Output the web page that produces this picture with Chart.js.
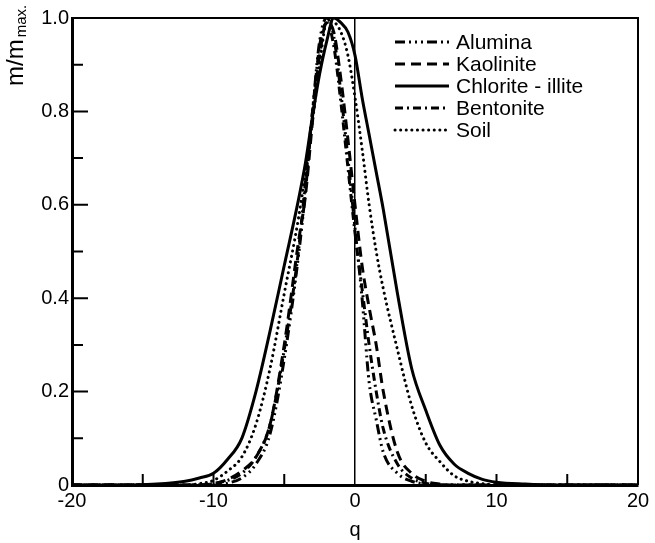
<!DOCTYPE html>
<html>
<head>
<meta charset="utf-8">
<script src="https://cdn.jsdelivr.net/npm/chart.js@4.4.1/dist/chart.umd.min.js"></script>
<style>
  html, body { margin: 0; padding: 0; background: #fff; }
  #grafica { display: block; }
</style>
</head>
<body>
<canvas id="grafica" width="655" height="543"></canvas>
<script>
// valores de q (eje x)
const Q = [-20, -16, -14, -12, -11, -10, -9, -8, -7, -6, -5, -4, -3.5, -3, -2.5, -2, -1.5, -1, -0.5,
  0, 0.5, 1, 1.5, 2, 3, 4, 5, 6, 7, 8, 9, 10, 12, 14, 16, 20];

// m/m max.
const alumina = [0, 0, 0, 0, 0, 0, 0.004, 0.015, 0.045, 0.11, 0.27, 0.49, 0.63, 0.80, 0.95, 1.0, 0.96, 0.84, 0.70,
  0.55, 0.40, 0.22, 0.14, 0.07, 0.025, 0.008, 0.002, 0, 0, 0, 0, 0, 0, 0, 0, 0];
const kaolinite = [0, 0, 0, 0, 0, 0.003, 0.012, 0.03, 0.06, 0.13, 0.30, 0.52, 0.62, 0.78, 0.92, 0.99, 0.97, 0.87, 0.74,
  0.60, 0.47, 0.38, 0.30, 0.20, 0.07, 0.025, 0.008, 0.002, 0, 0, 0, 0, 0, 0, 0, 0];
const chloriteIllite = [0, 0, 0.002, 0.008, 0.015, 0.025, 0.055, 0.10, 0.20, 0.33, 0.47, 0.61, 0.69, 0.79, 0.88, 0.95, 1.0, 0.99, 0.97,
  0.92, 0.83, 0.75, 0.67, 0.59, 0.41, 0.25, 0.16, 0.085, 0.045, 0.025, 0.012, 0.006, 0.002, 0, 0, 0];
const bentonite = [0, 0, 0, 0, 0, 0.003, 0.01, 0.025, 0.06, 0.13, 0.29, 0.50, 0.65, 0.80, 0.94, 0.99, 0.94, 0.82, 0.68,
  0.54, 0.42, 0.30, 0.20, 0.12, 0.045, 0.015, 0.004, 0, 0, 0, 0, 0, 0, 0, 0, 0];
const soil = [0, 0, 0, 0, 0.003, 0.01, 0.03, 0.06, 0.13, 0.25, 0.41, 0.57, 0.67, 0.78, 0.90, 0.99, 0.99, 0.97, 0.92,
  0.83, 0.72, 0.60, 0.50, 0.42, 0.29, 0.17, 0.09, 0.05, 0.02, 0.008, 0.003, 0, 0, 0, 0, 0];

// ticks
const X_TICKS_INTERIOR = [-15, -10, -5, 5, 10, 15];
const Y_MAJOR = [0.2, 0.4, 0.6, 0.8];
const Y_MINOR = [0.1, 0.3, 0.5, 0.7, 0.9];

const FUENTE = "'Liberation Sans', Arial, sans-serif";

function puntos(valores) {
  return Q.map((q, i) => ({ x: q, y: valores[i] }));
}

function serie(label, valores, dash, cap) {
  return {
    label: label,
    data: puntos(valores),
    borderColor: "#000",
    borderWidth: 3,
    borderDash: dash,
    borderCapStyle: cap || "butt",
    pointRadius: 0,
    fill: false,
    cubicInterpolationMode: "monotone",
  };
}

// Marco, ticks hacia adentro, leyenda y titulo del eje y
const decoraciones = {
  id: "decoraciones",
  afterDatasetsDraw(chart) {
    const { ctx, chartArea, scales } = chart;
    const x = scales.x;
    const y = scales.y;
    ctx.save();
    ctx.strokeStyle = "#000";
    ctx.setLineDash([]);
    // marco superior y derecho
    ctx.lineWidth = 2;
    ctx.beginPath();
    ctx.moveTo(chartArea.left, chartArea.top);
    ctx.lineTo(chartArea.right, chartArea.top);
    ctx.lineTo(chartArea.right, chartArea.bottom);
    ctx.stroke();
    // ticks
    ctx.lineWidth = 2;
    ctx.beginPath();
    X_TICKS_INTERIOR.forEach((v) => {
      const px = x.getPixelForValue(v);
      ctx.moveTo(px, chartArea.bottom);
      ctx.lineTo(px, chartArea.bottom - 11);
    });
    Y_MAJOR.forEach((v) => {
      const py = y.getPixelForValue(v);
      ctx.moveTo(chartArea.left, py);
      ctx.lineTo(chartArea.left + 16, py);
    });
    Y_MINOR.forEach((v) => {
      const py = y.getPixelForValue(v);
      ctx.moveTo(chartArea.left, py);
      ctx.lineTo(chartArea.left + 11, py);
    });
    ctx.stroke();

    // leyenda dentro del area
    ctx.font = "21px " + FUENTE;
    ctx.fillStyle = "#000";
    ctx.textBaseline = "middle";
    chart.data.datasets.forEach((ds, i) => {
      const fy = 42 + i * 22;
      ctx.lineWidth = 3;
      ctx.lineCap = ds.borderCapStyle;
      ctx.setLineDash(ds.borderDash);
      ctx.beginPath();
      ctx.moveTo(395, fy);
      ctx.lineTo(449, fy);
      ctx.stroke();
      ctx.setLineDash([]);
      ctx.fillText(ds.label, 456, fy + 1);
    });

    // titulo eje y: m/m max.
    ctx.translate(23, 86);
    ctx.rotate(-Math.PI / 2);
    ctx.textBaseline = "alphabetic";
    ctx.font = "24px " + FUENTE;
    ctx.fillText("m/m", 0, 0);
    const w = ctx.measureText("m/m").width;
    ctx.font = "15px " + FUENTE;
    ctx.fillText("max.", w + 2, 3);
    ctx.restore();
  },
};

const grafica = new Chart(document.getElementById("grafica"), {
  type: "line",
  data: {
    datasets: [
      serie("Alumina", alumina, [10, 4, 2, 4, 2, 4, 2, 4]),
      serie("Kaolinite", kaolinite, [10, 6]),
      serie("Chlorite - illite", chloriteIllite, []),
      serie("Bentonite", bentonite, [8, 4, 2, 4]),
      serie("Soil", soil, [0.1, 5.5], "round"),
    ],
  },
  options: {
    responsive: false,
    animation: false,
    devicePixelRatio: 1,
    layout: { padding: { top: 18, right: 17, left: 0, bottom: 0 } },
    plugins: {
      legend: { display: false },
      tooltip: { enabled: false },
    },
    scales: {
      x: {
        type: "linear",
        min: -20,
        max: 20,
        afterFit: (scale) => { scale.height = 58; },
        ticks: {
          stepSize: 10,
          padding: 4,
          color: "#000",
          font: { family: FUENTE, size: 20 },
        },
        grid: {
          drawTicks: false,
          lineWidth: 1.5,
          color: (c) => (c.tick && c.tick.value === 0 ? "#000" : "rgba(0,0,0,0)"),
        },
        border: { color: "#000", width: 3 },
        title: {
          display: true,
          text: "q",
          color: "#000",
          font: { family: FUENTE, size: 20 },
          padding: { top: 0, bottom: 1 },
        },
      },
      y: {
        min: 0,
        max: 1,
        afterFit: (scale) => { scale.width = 72; },
        ticks: {
          stepSize: 0.2,
          padding: 3,
          color: "#000",
          font: { family: FUENTE, size: 20 },
          callback: (v) => (v === 0 ? "0" : Number(v).toFixed(1)),
        },
        grid: { drawTicks: false, color: "rgba(0,0,0,0)" },
        border: { color: "#000", width: 3 },
      },
    },
  },
  plugins: [decoraciones],
});
</script>
</body>
</html>
